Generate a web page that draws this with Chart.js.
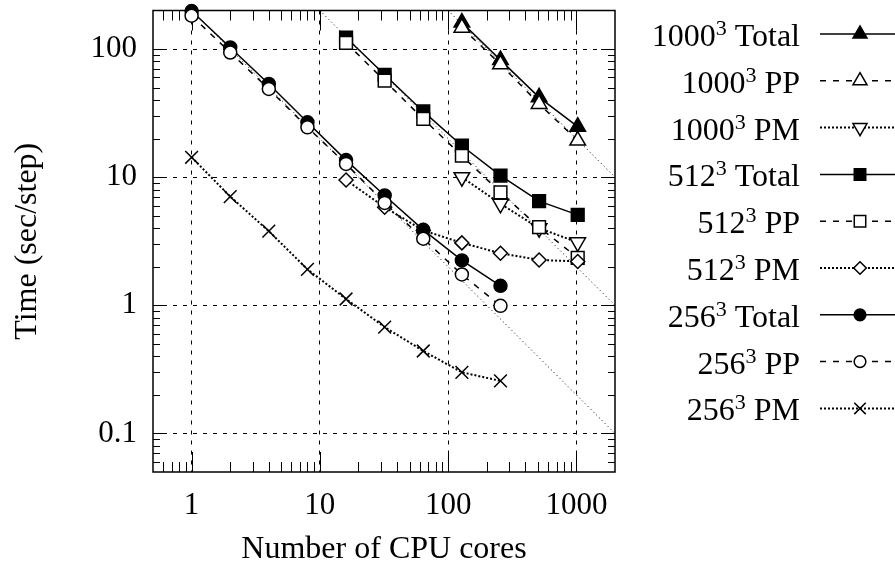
<!DOCTYPE html>
<html>
<head>
<meta charset="utf-8">
<script src="https://cdn.jsdelivr.net/npm/chart.js@4.4.0/dist/chart.umd.min.js"></script>
<style>
    body { margin: 0; background: #fff; }
    canvas { display: block; }
</style>
</head>
<body>
<canvas id="scalingChart" width="895" height="569"></canvas>
<script>
//Run sizes and timing parts
const gridSizes = ['1000', '512', '256'];
const parts = ['Total', 'PP', 'PM'];

//CPU cores used by each run size
const cores1000 = [128, 256, 512, 1024];
const cores512 = [16, 32, 64, 128, 256, 512, 1024];
const cores256 = [1, 2, 4, 8, 16, 32, 64, 128, 256];

//Time per step (sec)
const total1000 = [161, 82, 42, 24.8];
const pp1000 = [147, 76, 37.3, 19.3];
const pm1000 = [10.0, 6.2, 4.0, 3.1];
const total512 = [123, 63, 32.6, 17.6, 10.3, 6.5, 5.08];
const pp512 = [112, 56.6, 28.5, 14.7, 7.6, 4.07, 2.35];
const pm512 = [9.5, 5.83, 3.84, 3.07, 2.55, 2.26, 2.2];
const total256 = [198, 103, 53.4, 26.8, 13.6, 7.2, 3.88, 2.24, 1.42];
const pp256 = [182, 94, 48.8, 24.5, 12.7, 6.3, 3.31, 1.74, 0.99];
const pm256 = [14.3, 7.06, 3.79, 1.91, 1.12, 0.676, 0.44, 0.30, 0.257];

//Ideal scaling lines (time * cores = const), start and end
const idealCores = [[100, 2000], [10, 2000], [1, 2000]];
const idealTimes = [[200, 10], [200, 1], [200, 0.1]];

//Tick labels
const xTicks = [1, 10, 100, 1000];
const yTicks = [0.1, 1, 10, 100];

const FONT = '"Liberation Serif", "Times New Roman", serif';

function pairs(xs, ys) {
    return xs.map((c, i) => ({x: c, y: ys[i]}));
}

//line style per timing part
const partStyle = {
    Total: {dash: [], fill: '#000', width: 1.5},
    PP: {dash: [6, 7], fill: '#fff', width: 1.5},
    PM: {dash: [2, 2], fill: '#fff', width: 2}
};

//marker per run size / part
const markers = {
    '1000': {Total: ['triangle', 9, 0], PP: ['triangle', 9, 0], PM: ['triangle', 9, 180]},
    '512': {Total: ['rect', 9, 0], PP: ['rect', 9, 0], PM: ['rectRot', 7, 0]},
    '256': {Total: ['circle', 6.5, 0], PP: ['circle', 6.5, 0], PM: ['crossRot', 9, 0]}
};

const seriesValues = {
    '1000': [total1000, pp1000, pm1000],
    '512': [total512, pp512, pm512],
    '256': [total256, pp256, pm256]
};
const seriesCores = {'1000': cores1000, '512': cores512, '256': cores256};

let datasets = [];
let n = 0;
gridSizes.forEach((size) => {
    parts.forEach((part, j) => {
        const st = partStyle[part];
        const mk = markers[size][part];
        datasets.push({
            label: size + '^3 ' + part,
            legendSize: size,
            legendPart: part,
            data: pairs(seriesCores[size], seriesValues[size][j]),
            borderColor: '#000',
            borderWidth: st.width,
            borderDash: st.dash,
            backgroundColor: st.fill,
            pointStyle: mk[0],
            pointRadius: mk[1],
            pointRotation: mk[2],
            pointBorderWidth: 1.5,
            pointBackgroundColor: st.fill,
            pointBorderColor: '#000',
            clip: false,
            order: 100 - n
        });
        n++;
    });
});

idealCores.forEach((c, i) => {
    datasets.push({
        label: 'ideal',
        data: pairs(c, idealTimes[i]),
        borderColor: '#000',
        borderWidth: 1,
        borderDash: [1, 3],
        pointRadius: 0,
        order: 200
    });
});

//frame with minor tick marks on all four sides
const framePlugin = {
    id: 'frame',
    beforeDatasetsDraw(chart) {
        const {ctx, chartArea: a, scales: {x, y}} = chart;
        ctx.save();
        ctx.strokeStyle = '#000';
        ctx.lineWidth = 1;
        const seg = (x1, y1, x2, y2) => {
            ctx.beginPath();
            ctx.moveTo(x1, y1);
            ctx.lineTo(x2, y2);
            ctx.stroke();
        };
        for (let k = -2; k <= 4; k++) {
            for (let m = 1; m <= 9; m++) {
                const v = m * Math.pow(10, k);
                const len = m === 1 ? 20 : 10;
                if (v > x.min && v < x.max) {
                    const px = Math.round(x.getPixelForValue(v)) + 0.5;
                    seg(px, a.bottom, px, a.bottom - len);
                    seg(px, a.top, px, a.top + len);
                }
                const ylen = m === 1 ? 14 : 7;
                if (v > y.min && v < y.max) {
                    const py = Math.round(y.getPixelForValue(v)) + 0.5;
                    seg(a.left, py, a.left + ylen, py);
                    seg(a.right, py, a.right - ylen, py);
                }
            }
        }
        ctx.lineWidth = 1.5;
        ctx.strokeRect(a.left, a.top, a.right - a.left, a.bottom - a.top);
        ctx.restore();
    }
};

//legend on the right: text, then line sample with marker
const sideLegend = {
    id: 'sideLegend',
    afterDraw(chart) {
        const ctx = chart.ctx;
        const textRight = 800;
        ctx.save();
        chart.data.datasets.forEach((ds, i) => {
            if (!ds.legendSize) return;
            const yc = 34 + i * 46.8;
            const base = ctx.font = '32px ' + FONT;
            const rest = ' ' + ds.legendPart;
            const wRest = ctx.measureText(rest).width;
            const wSize = ctx.measureText(ds.legendSize).width;
            ctx.font = '22px ' + FONT;
            const wSup = ctx.measureText('3').width;
            ctx.fillStyle = '#000';
            ctx.textBaseline = 'alphabetic';
            ctx.textAlign = 'left';
            ctx.fillText('3', textRight - wRest - wSup, yc + 1);
            ctx.font = base;
            ctx.fillText(ds.legendSize, textRight - wRest - wSup - wSize, yc + 12);
            ctx.fillText(rest, textRight - wRest, yc + 12);

            ctx.strokeStyle = '#000';
            ctx.lineWidth = ds.borderWidth;
            ctx.setLineDash(ds.borderDash);
            ctx.beginPath();
            ctx.moveTo(820, yc);
            ctx.lineTo(900, yc);
            ctx.stroke();
            ctx.setLineDash([]);
            ctx.lineWidth = 1.5;
            ctx.fillStyle = ds.pointBackgroundColor;
            Chart.helpers.drawPoint(ctx, {
                pointStyle: ds.pointStyle,
                radius: ds.pointRadius * 0.9,
                rotation: ds.pointRotation,
                borderWidth: 1.5
            }, 860, yc);
        });
        ctx.restore();
    }
};

document.addEventListener('DOMContentLoaded', () => {
    const el = document.getElementById('scalingChart');
    const tickFont = {family: FONT, size: 31, weight: 'normal'};
    const titleFont = {family: FONT, size: 32, weight: 'normal'};

    const config = {
        type: 'line',
        data: {datasets: datasets},
        options: {
            responsive: false,
            animation: false,
            devicePixelRatio: 1,
            layout: {padding: {left: 0, top: 10, right: 280, bottom: 0}},
            elements: {line: {tension: 0}},
            plugins: {
                legend: {display: false},
                tooltip: {enabled: false}
            },
            scales: {
                x: {
                    type: 'logarithmic',
                    min: 0.5,
                    max: 2000,
                    afterBuildTicks: (s) => { s.ticks = xTicks.map(v => ({value: v})); },
                    afterFit: (s) => {
                        s.height = 97;
                        s.paddingLeft = 0; s.paddingRight = 0;
                    },
                    ticks: {
                        font: tickFont,
                        color: '#000',
                        padding: 15,
                        maxRotation: 0,
                        autoSkip: false,
                        callback: (v) => String(v)
                    },
                    grid: {color: '#000', lineWidth: 1, drawTicks: false},
                    border: {display: false, dash: [4, 6]},
                    title: {
                        display: true,
                        text: 'Number of CPU cores',
                        font: titleFont,
                        color: '#000',
                        padding: {top: 0, bottom: 0}
                    }
                },
                y: {
                    type: 'logarithmic',
                    min: 0.05,
                    max: 200,
                    afterBuildTicks: (s) => { s.ticks = yTicks.map(v => ({value: v})); },
                    afterFit: (s) => {
                        s.width = 153;
                        s.paddingTop = 0; s.paddingBottom = 0;
                    },
                    ticks: {
                        font: tickFont,
                        color: '#000',
                        padding: 16,
                        autoSkip: false,
                        callback: (v) => String(v)
                    },
                    grid: {color: '#000', lineWidth: 1, drawTicks: false},
                    border: {display: false, dash: [4, 6]},
                    title: {
                        display: true,
                        text: 'Time (sec/step)',
                        font: titleFont,
                        color: '#000',
                        padding: {top: 8, bottom: 0}
                    }
                }
            }
        },
        plugins: [framePlugin, sideLegend]
    };
    new Chart(el, config);
});
</script>
</body>
</html>
